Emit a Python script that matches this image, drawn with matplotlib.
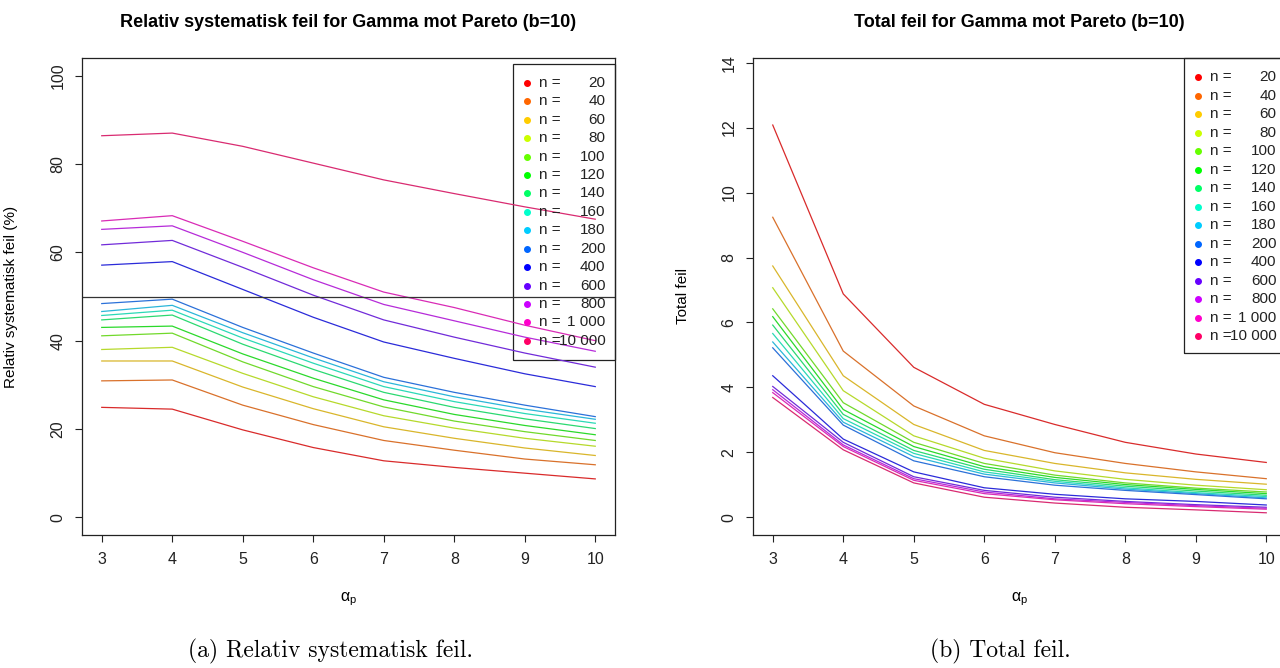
import colorsys
import numpy as np
import matplotlib
matplotlib.use("Agg")
import matplotlib.pyplot as plt
from matplotlib.patches import Rectangle

plt.rcParams["font.family"] = ["Liberation Sans", "DejaVu Sans"]
plt.rcParams["mathtext.fontset"] = "custom"
plt.rcParams["mathtext.rm"] = "Liberation Sans"

# alpha_p values on the x axis
alpha = [3, 4, 5, 6, 7, 8, 9, 10]
n_values = [20, 40, 60, 80, 100, 120, 140, 160, 180, 200, 400, 600, 800, 1000, 10000]

# relative bias (%) for each n
rel_bias = [
    [24.9, 24.5, 19.8, 15.8, 12.8, 11.3, 10.0, 8.7],
    [30.9, 31.1, 25.4, 21.0, 17.4, 15.2, 13.2, 11.9],
    [35.4, 35.4, 29.5, 24.6, 20.5, 17.9, 15.7, 14.0],
    [38.0, 38.5, 32.6, 27.3, 23.0, 20.2, 17.9, 16.1],
    [41.1, 41.7, 35.2, 29.6, 25.0, 21.8, 19.4, 17.4],
    [43.0, 43.3, 37.0, 31.5, 26.6, 23.3, 20.8, 18.7],
    [44.7, 45.8, 39.2, 33.5, 28.3, 24.9, 22.3, 20.1],
    [45.7, 46.9, 40.6, 34.9, 29.6, 26.2, 23.5, 21.3],
    [46.6, 48.0, 41.8, 36.1, 30.7, 27.3, 24.5, 22.2],
    [48.4, 49.4, 43.0, 37.2, 31.7, 28.3, 25.4, 22.8],
    [57.1, 57.9, 51.6, 45.3, 39.7, 36.0, 32.5, 29.6],
    [61.7, 62.7, 56.6, 50.3, 44.7, 40.8, 37.2, 34.0],
    [65.2, 66.0, 60.0, 53.8, 48.2, 44.5, 40.8, 37.6],
    [67.1, 68.3, 62.5, 56.5, 51.0, 47.5, 43.5, 40.0],
    [86.4, 87.0, 84.0, 80.2, 76.4, 73.3, 70.3, 67.5],
]

# total error for each n
total_err = [
    [12.08, 6.88, 4.62, 3.48, 2.86, 2.31, 1.95, 1.69],
    [9.24, 5.12, 3.43, 2.51, 1.99, 1.66, 1.40, 1.19],
    [7.74, 4.36, 2.86, 2.06, 1.66, 1.37, 1.17, 1.02],
    [7.07, 3.90, 2.51, 1.82, 1.43, 1.17, 0.99, 0.85],
    [6.42, 3.53, 2.31, 1.66, 1.30, 1.06, 0.90, 0.78],
    [6.18, 3.32, 2.18, 1.56, 1.23, 1.01, 0.86, 0.73],
    [5.92, 3.17, 2.06, 1.48, 1.16, 0.96, 0.81, 0.68],
    [5.66, 3.04, 1.97, 1.40, 1.11, 0.91, 0.76, 0.64],
    [5.40, 2.93, 1.87, 1.33, 1.06, 0.87, 0.73, 0.60],
    [5.22, 2.84, 1.74, 1.25, 0.99, 0.83, 0.70, 0.57],
    [4.36, 2.41, 1.40, 0.91, 0.71, 0.57, 0.49, 0.38],
    [4.03, 2.31, 1.25, 0.83, 0.62, 0.49, 0.39, 0.31],
    [3.93, 2.23, 1.19, 0.78, 0.57, 0.46, 0.36, 0.28],
    [3.84, 2.18, 1.14, 0.73, 0.54, 0.42, 0.33, 0.25],
    [3.69, 2.08, 1.06, 0.62, 0.44, 0.31, 0.23, 0.14],
]

# rainbow palette like R's rainbow(15)
colors = [colorsys.hsv_to_rgb(i / 15, 1, 1) for i in range(len(n_values))]
# lines come out a bit softer than the legend dots
line_colors = [colorsys.hsv_to_rgb(i / 15, 0.8, 0.85) for i in range(len(n_values))]


def fmt_n(n):
    return f"{n:,}".replace(",", " ")


def style_axes(ax, yticks, ylim):
    ax.set_xlim(2.72, 10.28)
    ax.set_ylim(*ylim)
    ax.set_xticks(alpha)
    ax.set_yticks(yticks)
    ax.tick_params(axis="both", direction="out", length=5, width=0.8, labelsize=11.5,
                   colors="#222222")
    ax.tick_params(axis="x", pad=7)
    ax.tick_params(axis="y", pad=7)
    for lab in ax.get_yticklabels():
        lab.set_rotation(90)
        lab.set_va("center")
    for s in ax.spines.values():
        s.set_linewidth(0.9)
        s.set_color("#222222")


def draw_legend(ax, x0, top, bottom, first, last):
    ax.add_patch(Rectangle((x0, bottom), 1.0 - x0, top - bottom, transform=ax.transAxes,
                           fill=False, edgecolor="#222222", linewidth=0.9, clip_on=False))
    ys = np.linspace(first, last, len(n_values))
    for y, n, c in zip(ys, n_values, colors):
        ax.plot([x0 + 0.025], [y], "o", color=c, markersize=4, transform=ax.transAxes,
                clip_on=False)
        ax.text(x0 + 0.049, y, "n =", transform=ax.transAxes, ha="left", va="center",
                fontsize=11, color="#222222")
        ax.text(0.982, y, fmt_n(n), transform=ax.transAxes, ha="right", va="center",
                fontsize=11, color="#222222")


fig = plt.figure(figsize=(12.8, 6.68), dpi=100)
ax1 = fig.add_axes([82 / 1280, 1 - 535 / 668, 533 / 1280, 477 / 668])
ax2 = fig.add_axes([753 / 1280, 1 - 535 / 668, 533 / 1280, 477 / 668])

# Left panel - relative bias
for vals, c in zip(rel_bias, line_colors):
    ax1.plot(alpha, vals, color=c, linewidth=0.9)
ax1.axhline(50, color="#333333", linewidth=0.9)
style_axes(ax1, [0, 20, 40, 60, 80, 100], (-4, 104))
ax1.set_title("Relativ systematisk feil for Gamma mot Pareto (b=10)", fontsize=13,
              fontweight="bold", y=1.058, va="center")
ax1.set_ylabel("Relativ systematisk feil (%)", fontsize=11)
ax1.yaxis.set_label_coords(-0.12, 0.5)
ax1.set_xlabel(r"α$_{\mathregular{p}}$", fontsize=11.5, va="center")
ax1.xaxis.set_label_coords(0.5, -0.135)
draw_legend(ax1, 0.809, 0.987, 0.367, 0.948, 0.407)

# Right panel - total error
for vals, c in zip(total_err, line_colors):
    ax2.plot(alpha, vals, color=c, linewidth=0.9)
style_axes(ax2, [0, 2, 4, 6, 8, 10, 12, 14], (-0.544, 14.144))
ax2.set_title("Total feil for Gamma mot Pareto (b=10)", fontsize=13,
              fontweight="bold", y=1.058, va="center")
ax2.set_ylabel("Total feil", fontsize=11)
ax2.yaxis.set_label_coords(-0.118, 0.5)
ax2.set_xlabel(r"α$_{\mathregular{p}}$", fontsize=11.5, va="center")
ax2.xaxis.set_label_coords(0.5, -0.135)
draw_legend(ax2, 0.809, 1.0, 0.382, 0.960, 0.417)

# Sub-figure captions
fig.text(330 / 1280, 1 - 651 / 668, "(a) Relativ systematisk feil.", family="cmr10",
         fontsize=17, ha="center", va="center")
fig.text(1000 / 1280, 1 - 651 / 668, "(b) Total feil.", family="cmr10",
         fontsize=17, ha="center", va="center")

fig.savefig("out.png", dpi=100)
print("saved out.png")
